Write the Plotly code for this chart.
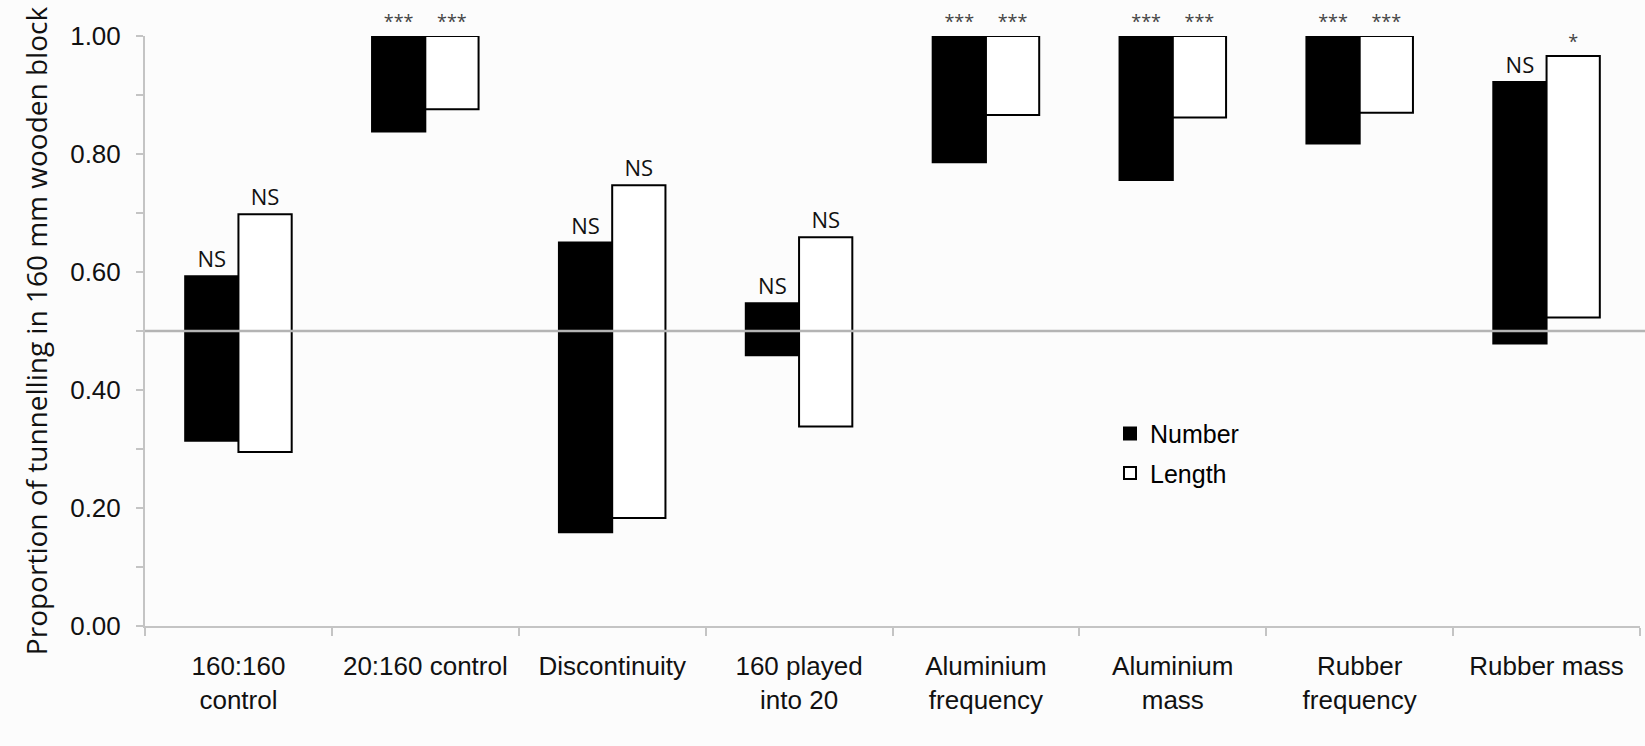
import plotly.graph_objects as go

# Experimental conditions (x categories)
categories = [
    "160:160<br>control",
    "20:160 control",
    "Discontinuity",
    "160 played<br>into 20",
    "Aluminium<br>frequency",
    "Aluminium<br>mass",
    "Rubber<br>frequency",
    "Rubber mass",
]

# Range of the proportion of tunnelling in the 160 mm block: number of tunnels
number_low = [0.314, 0.838, 0.159, 0.459, 0.786, 0.756, 0.818, 0.479]
number_high = [0.593, 1.000, 0.650, 0.547, 1.000, 1.000, 1.000, 0.922]
number_sig = ["NS", "***", "NS", "NS", "***", "***", "***", "NS"]

# Range of the proportion of tunnelling in the 160 mm block: tunnel length
length_low = [0.295, 0.876, 0.183, 0.338, 0.866, 0.862, 0.870, 0.523]
length_high = [0.698, 1.000, 0.747, 0.659, 1.000, 1.000, 1.000, 0.966]
length_sig = ["NS", "***", "NS", "NS", "***", "***", "***", "*"]

y_ticks = [round(0.1 * i, 1) for i in range(11)]
y_ticktext = [f"{v:.2f}" if i % 2 == 0 else "" for i, v in enumerate(y_ticks)]

chance_level = 0.5

AXIS_GREY = "#c4c4c4"
TICK_FONT = "Liberation Sans, Arial, sans-serif"
NOTE_FONT = "Open Sans, DejaVu Sans, sans-serif"


def sig_style(labels):
    sizes = [22 if s == "NS" else 18 for s in labels]
    colors = ["#111111" if s == "NS" else "#444444" for s in labels]
    return sizes, colors


def range_bar(name, low, high, sig, fill):
    sizes, colors = sig_style(sig)
    return go.Bar(
        name=name,
        x=categories,
        base=low,
        y=[h - l for l, h in zip(low, high)],
        marker=dict(color=fill, line=dict(color="#000000", width=2)),
        text=sig,
        textposition="outside",
        textfont=dict(family=NOTE_FONT, size=sizes, color=colors),
        constraintext="none",
        cliponaxis=False,
        legendgroup=name,
        hovertemplate="%{x}<br>%{base:.2f} – %{y:.2f}<extra>" + name + "</extra>",
    )


fig = go.Figure()
fig.add_trace(range_bar("Number", number_low, number_high, number_sig, "#000000"))
fig.add_trace(range_bar("Length", length_low, length_high, length_sig, "#ffffff"))

# Chance (50 %) reference line drawn across the plot, above the bars
fig.add_shape(
    type="line", xref="paper", yref="y",
    x0=0, x1=1.01, y0=chance_level, y1=chance_level,
    line=dict(color="#b4b4b4", width=2.5),
    layer="above",
)

fig.update_layout(
    width=1645,
    height=746,
    margin=dict(l=145, r=5, t=36, b=120),
    paper_bgcolor="#fcfcfc",
    plot_bgcolor="#fcfcfc",
    barmode="group",
    bargap=0.43,
    bargroupgap=0,
    showlegend=True,
    legend=dict(
        x=0.6455, y=0.365, xanchor="left", yanchor="top",
        bgcolor="rgba(0,0,0,0)",
        font=dict(family=TICK_FONT, size=25, color="#000000"),
        traceorder="grouped",
        tracegroupgap=4,
    ),
    xaxis=dict(
        range=[-0.5, 7.5],
        showline=True, linecolor=AXIS_GREY, linewidth=2,
        ticks="outside", tickson="boundaries", ticklen=8,
        tickcolor=AXIS_GREY, tickwidth=2,
        ticklabelstandoff=16,
        tickfont=dict(family=TICK_FONT, size=26, color="#111111"),
        showgrid=False, zeroline=False,
    ),
    yaxis=dict(
        range=[0, 1.0],
        tickvals=y_ticks, ticktext=y_ticktext,
        showline=True, linecolor=AXIS_GREY, linewidth=2,
        ticks="outside", ticklen=7, tickcolor=AXIS_GREY, tickwidth=2,
        ticklabelstandoff=10,
        tickfont=dict(family=TICK_FONT, size=26, color="#111111"),
        showgrid=False, zeroline=False,
        title=dict(
            text="Proportion of tunnelling in 160 mm wooden block",
            font=dict(family=NOTE_FONT, size=28, color="#111111"),
            standoff=14,
        ),
    ),
)

fig.write_html("out.html")
